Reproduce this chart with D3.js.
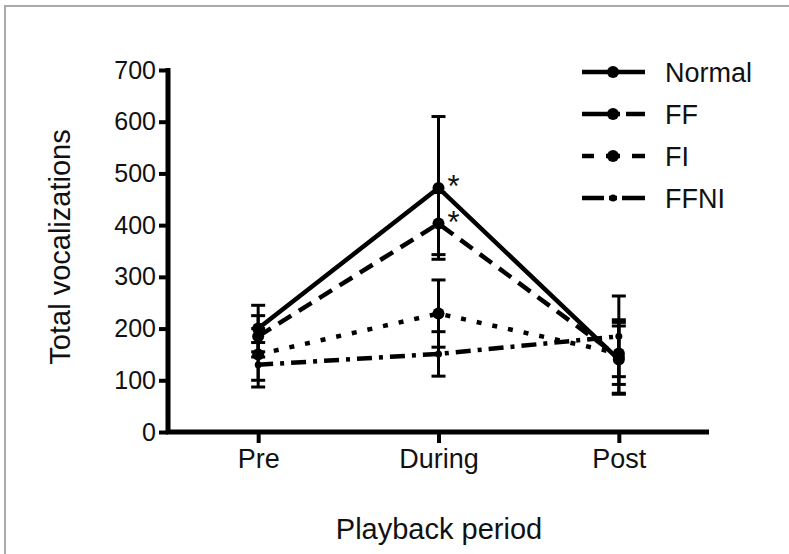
<!DOCTYPE html>
<html lang="en">
<head>
<meta charset="utf-8">
<title>Total vocalizations</title>
<script src="https://cdn.jsdelivr.net/npm/d3@7"></script>
<style>
  body { margin: 0; background: #fff; }
  text { font-family: "Liberation Sans", Arial, sans-serif; fill: #111; }
</style>
</head>
<body>
<script>
// data
var periods = ["Pre", "During", "Post"];
var normal = [200, 472, 140];
var normalErr = [45, 138, 65];
var ff = [185, 403, 145];
var ffErr = [40, 60, 72];
var fi = [150, 229, 152];
var fiErr = [50, 65, 60];
var ffni = [130, 151, 185];
var ffniErr = [43, 43, 78];
var yTicks = [0, 100, 200, 300, 400, 500, 600, 700];
var seriesNames = ["Normal", "FF", "FI", "FFNI"];
var stars = [["Normal", "During"], ["FF", "During"]];

var w = 789, h = 554;

var series = [
  {name: "Normal", vals: normal, err: normalErr, dash: null, legendDash: null, r: 6},
  {name: "FF", vals: ff, err: ffErr, dash: "15,9", legendDash: "26,4,8,6,20", r: 6},
  {name: "FI", vals: fi, err: fiErr, dash: "5,11", legendDash: "12,12,14,12,30", r: 6},
  {name: "FFNI", vals: ffni, err: ffniErr, dash: "15,7,4,7", legendDash: "22,5,8,5,30", r: 3.5}
];

var svg = d3.select("body").append("svg")
  .attr("width", w)
  .attr("height", h);

// frame (top and left edges only visible)
svg.append("path")
  .attr("d", "M5,554 V6 H789")
  .attr("fill", "none")
  .attr("stroke", "#aaa")
  .attr("stroke-width", 2);

var xScale = d3.scalePoint()
  .domain(periods)
  .range([168, 709])
  .padding(0.5);

var yScale = d3.scaleLinear()
  .domain([0, 700])
  .range([432, 70]);

// Y axis
var yAxis = d3.axisLeft(yScale)
  .tickValues(yTicks)
  .tickSize(9)
  .tickPadding(3);

var gy = svg.append("g")
  .attr("transform", "translate(168,0)")
  .call(yAxis);
gy.select(".domain").attr("stroke-width", 5).attr("stroke", "#000")
  .attr("d", "M0,68V432");
gy.selectAll(".tick line").attr("stroke-width", 4).attr("stroke", "#000");
gy.selectAll(".tick text").attr("font-size", "25px")
  .style("font-family", "'Liberation Sans', Arial, sans-serif").attr("fill", "#111");

// X axis
var xAxis = d3.axisBottom(xScale)
  .tickSize(11)
  .tickPadding(6);

var gx = svg.append("g")
  .attr("transform", "translate(0,432)")
  .call(xAxis);
gx.select(".domain").attr("stroke-width", 5).attr("stroke", "#000")
  .attr("d", "M166,0H709");
gx.selectAll(".tick line").attr("stroke-width", 4).attr("stroke", "#000");
gx.selectAll(".tick text").attr("font-size", "27px")
  .style("font-family", "'Liberation Sans', Arial, sans-serif").attr("fill", "#111");

// axis titles
svg.append("text")
  .attr("transform", "translate(70,247) rotate(-90)")
  .attr("text-anchor", "middle")
  .attr("font-size", "29px")
  .text("Total vocalizations");

svg.append("text")
  .attr("x", 439)
  .attr("y", 539)
  .attr("text-anchor", "middle")
  .attr("font-size", "29px")
  .text("Playback period");

var line = d3.line()
  .x(function(d, i) { return xScale(periods[i]); })
  .y(function(d) { return yScale(d); });

// error bars
series.forEach(function(s) {
  var g = svg.append("g");
  s.vals.forEach(function(v, i) {
    var x = xScale(periods[i]);
    var y1 = yScale(v + s.err[i]), y0 = yScale(v - s.err[i]);
    g.append("line").attr("x1", x).attr("x2", x).attr("y1", y1).attr("y2", y0)
      .attr("stroke", "#000").attr("stroke-width", 3);
    [y1, y0].forEach(function(yy) {
      g.append("line").attr("x1", x - 7).attr("x2", x + 7).attr("y1", yy).attr("y2", yy)
        .attr("stroke", "#000").attr("stroke-width", 3);
    });
  });
});

// lines and markers
series.forEach(function(s) {
  svg.append("path")
    .attr("d", line(s.vals))
    .attr("fill", "none")
    .attr("stroke", "#000")
    .attr("stroke-width", 4.5)
    .attr("stroke-dasharray", s.dash);

  svg.selectAll(null)
    .data(s.vals)
    .enter()
    .append("circle")
    .attr("cx", function(d, i) { return xScale(periods[i]); })
    .attr("cy", function(d) { return yScale(d); })
    .attr("r", s.r)
    .attr("fill", "#000");
});

// significance stars
stars.forEach(function(st) {
  var s = series.filter(function(d) { return d.name === st[0]; })[0];
  var i = periods.indexOf(st[1]);
  svg.append("text")
    .attr("x", xScale(st[1]) + 9)
    .attr("y", yScale(s.vals[i]) + 9)
    .attr("font-size", "31px")
    .text("*");
});

// legend
var legend = svg.append("g");
seriesNames.forEach(function(name, k) {
  var s = series[k];
  var y = 72 + k * 42;
  legend.append("line")
    .attr("x1", 582).attr("x2", 645).attr("y1", y).attr("y2", y)
    .attr("stroke", "#000").attr("stroke-width", 4.5)
    .attr("stroke-dasharray", s.legendDash);
  legend.append("circle")
    .attr("cx", 613).attr("cy", y).attr("r", s.r).attr("fill", "#000");
  legend.append("text")
    .attr("x", 665).attr("y", y)
    .attr("dy", "0.36em")
    .attr("font-size", "27px")
    .text(name);
});
</script>
</body>
</html>
